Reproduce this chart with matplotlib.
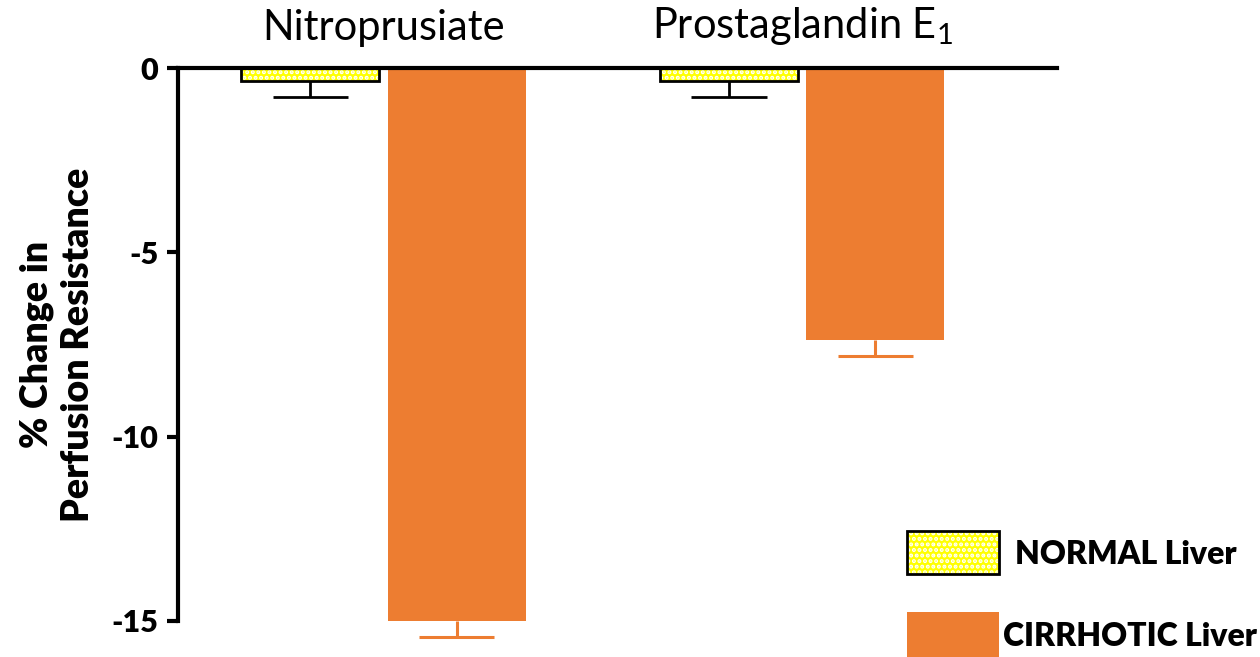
import matplotlib
matplotlib.use('Agg')
import matplotlib.pyplot as plt
from matplotlib.patches import Rectangle
import numpy as np

plt.rcParams['font.family'] = ['Lato', 'DejaVu Sans']
plt.rcParams['mathtext.fontset'] = 'custom'
plt.rcParams['mathtext.rm'] = 'Lato'
plt.rcParams['mathtext.it'] = 'Lato:italic'
plt.rcParams['hatch.linewidth'] = 2.0

DRUGS        = ["Nitroprusiate", "Prostaglandin E$_1$"]
NORMAL       = [-0.35, -0.35]
NORMAL_ERR   = [0.44, 0.44]
CIRRHOTIC    = [-15.0, -7.38]
CIRRHOTIC_ERR = [0.43, 0.43]
LEGEND_LABELS = ["NORMAL Liver", "CIRRHOTIC Liver"]

YELLOW = "#FFFF00"
ORANGE = "#ED7D31"

W, H = 1260, 657
fig = plt.figure(figsize=(W / 100, H / 100), dpi=100)
ax = fig.add_axes([178 / W, 1 - 621 / H, (1057 - 178) / W, (621 - 68) / H])

x = np.arange(len(DRUGS))
width = 0.33
off = 0.175
cap = 0.09


def down_err(xs, vals, errs, color, lw):
    # one-sided (downward) error bars
    vals = np.asarray(vals)
    lows = vals - np.asarray(errs)
    ax.vlines(xs, vals, lows, color=color, lw=lw, zorder=1, clip_on=False)
    ax.hlines(lows, xs - cap, xs + cap, color=color, lw=lw, zorder=1,
              clip_on=False)


# normal bars: yellow with white dots, black outline
ax.bar(x - off, NORMAL, width, color=YELLOW, edgecolor="white",
       hatch="...", linewidth=0, zorder=2)
ax.bar(x - off, NORMAL, width, fill=False, edgecolor="black",
       linewidth=2, zorder=3)
down_err(x - off, NORMAL, NORMAL_ERR, "black", 2)

ax.bar(x + off, CIRRHOTIC, width, color=ORANGE, linewidth=0, zorder=2)
down_err(x + off, CIRRHOTIC, CIRRHOTIC_ERR, ORANGE, 2.2)

ax.set_xlim(-0.491, 1.609)
ax.set_ylim(-15, 0)
ax.set_yticks([0, -5, -10, -15])
ax.set_yticklabels(["0", "-5", "-10", "-15"], fontsize=22, fontweight="heavy")
ax.set_xticks([])
ax.tick_params(axis="y", length=8, width=3, pad=6)

for s in ["bottom", "right"]:
    ax.spines[s].set_visible(False)
ax.spines["left"].set_linewidth(3)
ax.spines["top"].set_linewidth(3)
ax.spines["top"].set_zorder(5)

for xi, name in zip(x, DRUGS):
    ax.text(xi, 1.038, name, transform=ax.get_xaxis_transform(),
            ha="center", va="bottom", fontsize=30)

ax.set_ylabel("% Change in\nPerfusion Resistance", fontsize=27,
              fontweight="heavy", linespacing=1.25, labelpad=12)

# legend boxes
fig.patches.append(Rectangle((907 / W, 1 - 574 / H), 92 / W, 43 / H,
                             transform=fig.transFigure, facecolor=YELLOW,
                             edgecolor="white", hatch="...", linewidth=0))
fig.patches.append(Rectangle((907 / W, 1 - 574 / H), 92 / W, 43 / H,
                             transform=fig.transFigure, fill=False,
                             edgecolor="black", linewidth=2))
fig.patches.append(Rectangle((907 / W, 1 - 657 / H), 92 / W, 45 / H,
                             transform=fig.transFigure, facecolor=ORANGE,
                             linewidth=0))
fig.text(1015 / W, 1 - 555 / H, LEGEND_LABELS[0], fontsize=23,
         fontweight="heavy", va="center", ha="left")
fig.text(1003 / W, 1 - 637 / H, LEGEND_LABELS[1], fontsize=23,
         fontweight="heavy", va="center", ha="left")

fig.savefig("out.png", dpi=100)
